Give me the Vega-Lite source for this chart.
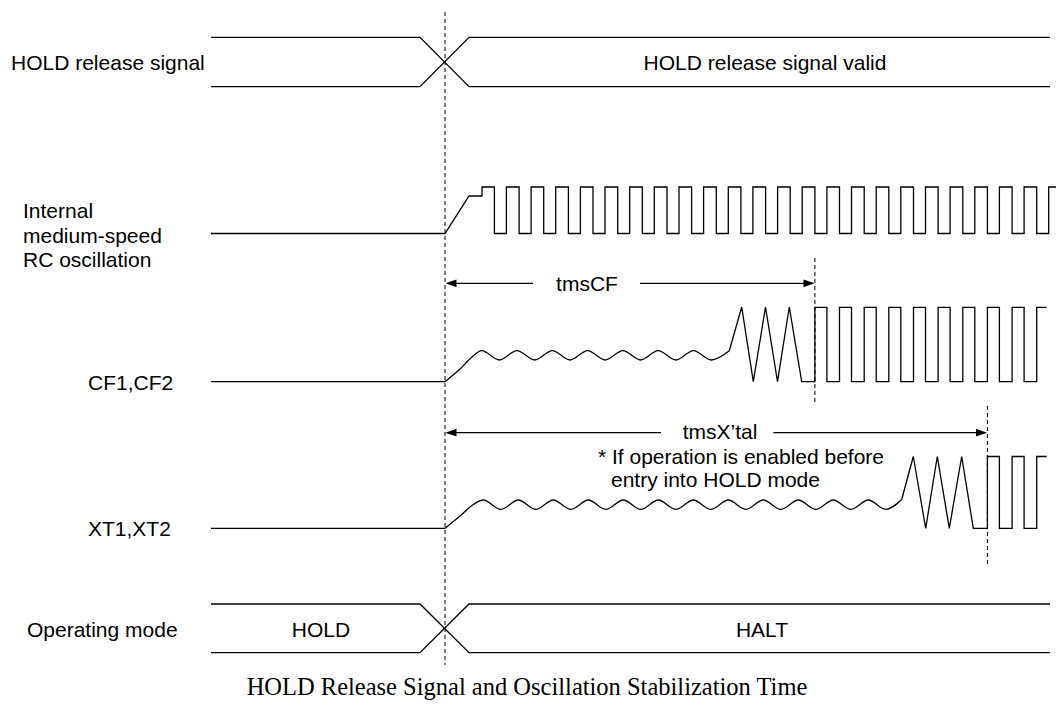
{
  "$schema": "https://vega.github.io/schema/vega-lite/v6.json",
  "width": 1056,
  "height": 715,
  "padding": 0,
  "autosize": {"type": "none"},
  "background": "white",
  "view": {"stroke": null},
  "datasets": {
    "lin": [
      {"g":"h1a","x":211,"y":37.3},{"g":"h1a","x":420,"y":37.3},{"g":"h1a","x":469,"y":86.7},{"g":"h1a","x":1050,"y":86.7},
      {"g":"h1b","x":211,"y":86.7},{"g":"h1b","x":420,"y":86.7},{"g":"h1b","x":469,"y":37.3},{"g":"h1b","x":1050,"y":37.3},
      {"g":"om1","x":211,"y":604},{"g":"om1","x":420,"y":604},{"g":"om1","x":469,"y":652.7},{"g":"om1","x":1050,"y":652.7},
      {"g":"om2","x":211,"y":652.7},{"g":"om2","x":420,"y":652.7},{"g":"om2","x":469,"y":604},{"g":"om2","x":1050,"y":604},
      {"g":"rc","x":211,"y":233.5},{"g":"rc","x":445,"y":233.5},{"g":"rc","x":469,"y":196},{"g":"rc","x":482,"y":196},{"g":"rc","x":482,"y":187},
      {"g":"rc","x":494.4,"y":187},{"g":"rc","x":494.4,"y":233.5},{"g":"rc","x":506.4,"y":233.5},{"g":"rc","x":506.4,"y":187},
      {"g":"rc","x":519.1,"y":187},{"g":"rc","x":519.1,"y":233.5},{"g":"rc","x":531.1,"y":233.5},{"g":"rc","x":531.1,"y":187},
      {"g":"rc","x":543.7,"y":187},{"g":"rc","x":543.7,"y":233.5},{"g":"rc","x":555.7,"y":233.5},{"g":"rc","x":555.7,"y":187},
      {"g":"rc","x":568.4,"y":187},{"g":"rc","x":568.4,"y":233.5},{"g":"rc","x":580.4,"y":233.5},{"g":"rc","x":580.4,"y":187},
      {"g":"rc","x":593,"y":187},{"g":"rc","x":593,"y":233.5},{"g":"rc","x":605,"y":233.5},{"g":"rc","x":605,"y":187},
      {"g":"rc","x":617.7,"y":187},{"g":"rc","x":617.7,"y":233.5},{"g":"rc","x":629.7,"y":233.5},{"g":"rc","x":629.7,"y":187},
      {"g":"rc","x":642.3,"y":187},{"g":"rc","x":642.3,"y":233.5},{"g":"rc","x":654.3,"y":233.5},{"g":"rc","x":654.3,"y":187},
      {"g":"rc","x":667,"y":187},{"g":"rc","x":667,"y":233.5},{"g":"rc","x":679,"y":233.5},{"g":"rc","x":679,"y":187},
      {"g":"rc","x":691.6,"y":187},{"g":"rc","x":691.6,"y":233.5},{"g":"rc","x":703.6,"y":233.5},{"g":"rc","x":703.6,"y":187},
      {"g":"rc","x":716.3,"y":187},{"g":"rc","x":716.3,"y":233.5},{"g":"rc","x":728.3,"y":233.5},{"g":"rc","x":728.3,"y":187},
      {"g":"rc","x":740.9,"y":187},{"g":"rc","x":740.9,"y":233.5},{"g":"rc","x":752.9,"y":233.5},{"g":"rc","x":752.9,"y":187},
      {"g":"rc","x":765.6,"y":187},{"g":"rc","x":765.6,"y":233.5},{"g":"rc","x":777.6,"y":233.5},{"g":"rc","x":777.6,"y":187},
      {"g":"rc","x":790.2,"y":187},{"g":"rc","x":790.2,"y":233.5},{"g":"rc","x":802.2,"y":233.5},{"g":"rc","x":802.2,"y":187},
      {"g":"rc","x":814.9,"y":187},{"g":"rc","x":814.9,"y":233.5},{"g":"rc","x":826.9,"y":233.5},{"g":"rc","x":826.9,"y":187},
      {"g":"rc","x":839.5,"y":187},{"g":"rc","x":839.5,"y":233.5},{"g":"rc","x":851.5,"y":233.5},{"g":"rc","x":851.5,"y":187},
      {"g":"rc","x":864.2,"y":187},{"g":"rc","x":864.2,"y":233.5},{"g":"rc","x":876.2,"y":233.5},{"g":"rc","x":876.2,"y":187},
      {"g":"rc","x":888.8,"y":187},{"g":"rc","x":888.8,"y":233.5},{"g":"rc","x":900.8,"y":233.5},{"g":"rc","x":900.8,"y":187},
      {"g":"rc","x":913.5,"y":187},{"g":"rc","x":913.5,"y":233.5},{"g":"rc","x":925.5,"y":233.5},{"g":"rc","x":925.5,"y":187},
      {"g":"rc","x":938.1,"y":187},{"g":"rc","x":938.1,"y":233.5},{"g":"rc","x":950.1,"y":233.5},{"g":"rc","x":950.1,"y":187},
      {"g":"rc","x":962.8,"y":187},{"g":"rc","x":962.8,"y":233.5},{"g":"rc","x":974.8,"y":233.5},{"g":"rc","x":974.8,"y":187},
      {"g":"rc","x":987.4,"y":187},{"g":"rc","x":987.4,"y":233.5},{"g":"rc","x":999.4,"y":233.5},{"g":"rc","x":999.4,"y":187},
      {"g":"rc","x":1012.1,"y":187},{"g":"rc","x":1012.1,"y":233.5},{"g":"rc","x":1024.1,"y":233.5},{"g":"rc","x":1024.1,"y":187},
      {"g":"rc","x":1036.7,"y":187},{"g":"rc","x":1036.7,"y":233.5},{"g":"rc","x":1048.7,"y":233.5},{"g":"rc","x":1048.7,"y":187},
      {"g":"rc","x":1056,"y":187},
      {"g":"cfb","x":211,"y":381.7},{"g":"cfb","x":445,"y":381.7},
      {"g":"cfz","x":729.3,"y":350.7},{"g":"cfz","x":741.7,"y":307},{"g":"cfz","x":753.3,"y":381.7},{"g":"cfz","x":765.5,"y":307},{"g":"cfz","x":777.5,"y":381.7},{"g":"cfz","x":789.3,"y":307},{"g":"cfz","x":801.7,"y":381.7},
      {"g":"cfz","x":814.9,"y":381.7},{"g":"cfz","x":814.9,"y":307.3},{"g":"cfz","x":826.9,"y":307.3},{"g":"cfz","x":826.9,"y":381.7},
      {"g":"cfz","x":839.5,"y":381.7},{"g":"cfz","x":839.5,"y":307.3},{"g":"cfz","x":851.5,"y":307.3},{"g":"cfz","x":851.5,"y":381.7},
      {"g":"cfz","x":864.2,"y":381.7},{"g":"cfz","x":864.2,"y":307.3},{"g":"cfz","x":876.2,"y":307.3},{"g":"cfz","x":876.2,"y":381.7},
      {"g":"cfz","x":888.8,"y":381.7},{"g":"cfz","x":888.8,"y":307.3},{"g":"cfz","x":900.8,"y":307.3},{"g":"cfz","x":900.8,"y":381.7},
      {"g":"cfz","x":913.5,"y":381.7},{"g":"cfz","x":913.5,"y":307.3},{"g":"cfz","x":925.5,"y":307.3},{"g":"cfz","x":925.5,"y":381.7},
      {"g":"cfz","x":938.1,"y":381.7},{"g":"cfz","x":938.1,"y":307.3},{"g":"cfz","x":950.1,"y":307.3},{"g":"cfz","x":950.1,"y":381.7},
      {"g":"cfz","x":962.8,"y":381.7},{"g":"cfz","x":962.8,"y":307.3},{"g":"cfz","x":974.8,"y":307.3},{"g":"cfz","x":974.8,"y":381.7},
      {"g":"cfz","x":987.4,"y":381.7},{"g":"cfz","x":987.4,"y":307.3},{"g":"cfz","x":999.4,"y":307.3},{"g":"cfz","x":999.4,"y":381.7},
      {"g":"cfz","x":1012.1,"y":381.7},{"g":"cfz","x":1012.1,"y":307.3},{"g":"cfz","x":1024.1,"y":307.3},{"g":"cfz","x":1024.1,"y":381.7},
      {"g":"cfz","x":1036.7,"y":381.7},{"g":"cfz","x":1036.7,"y":307.3},{"g":"cfz","x":1046.7,"y":307.3},
      {"g":"xtb","x":211,"y":528.3},{"g":"xtb","x":445,"y":528.3},
      {"g":"xtz","x":901.7,"y":499.5},{"g":"xtz","x":913.3,"y":456.5},{"g":"xtz","x":925.7,"y":528.3},{"g":"xtz","x":937.3,"y":456.5},{"g":"xtz","x":949.3,"y":528.3},{"g":"xtz","x":961.7,"y":456.5},{"g":"xtz","x":973.3,"y":528.3},
      {"g":"xtz","x":987.4,"y":528.3},{"g":"xtz","x":987.4,"y":456.5},{"g":"xtz","x":999.4,"y":456.5},{"g":"xtz","x":999.4,"y":528.3},
      {"g":"xtz","x":1012.1,"y":528.3},{"g":"xtz","x":1012.1,"y":456.5},{"g":"xtz","x":1024.1,"y":456.5},{"g":"xtz","x":1024.1,"y":528.3},
      {"g":"xtz","x":1036.7,"y":528.3},{"g":"xtz","x":1036.7,"y":456.5},{"g":"xtz","x":1046.7,"y":456.5},
      {"g":"a1l","x":447,"y":283.3},{"g":"a1l","x":533,"y":283.3},
      {"g":"a1r","x":640,"y":283.3},{"g":"a1r","x":813,"y":283.3},
      {"g":"a2l","x":447,"y":432.7},{"g":"a2l","x":661,"y":432.7},
      {"g":"a2r","x":773.3,"y":432.7},{"g":"a2r","x":985.5,"y":432.7}
    ],
    "wav": [
      {"g":"cfw","x":445,"y":381.7},{"g":"cfw","x":460,"y":369},{"g":"cfw","x":472,"y":357},{"g":"cfw","x":481.7,"y":350.7},
      {"g":"cfw","x":499.4,"y":360},{"g":"cfw","x":517,"y":350.7},{"g":"cfw","x":534.7,"y":360},{"g":"cfw","x":552.3,"y":350.7},
      {"g":"cfw","x":570,"y":360},{"g":"cfw","x":587.6,"y":350.7},{"g":"cfw","x":605.3,"y":360},{"g":"cfw","x":622.9,"y":350.7},
      {"g":"cfw","x":640.6,"y":360},{"g":"cfw","x":658.2,"y":350.7},{"g":"cfw","x":675.9,"y":360},{"g":"cfw","x":693.5,"y":350.7},
      {"g":"cfw","x":711.2,"y":360},{"g":"cfw","x":729.3,"y":350.7},
      {"g":"xtw","x":445,"y":528.3},{"g":"xtw","x":460,"y":516},{"g":"xtw","x":472,"y":505.5},{"g":"xtw","x":483.3,"y":500},
      {"g":"xtw","x":500.8,"y":509.3},{"g":"xtw","x":518.3,"y":500},{"g":"xtw","x":535.8,"y":509.3},{"g":"xtw","x":553.3,"y":500},
      {"g":"xtw","x":570.8,"y":509.3},{"g":"xtw","x":588.3,"y":500},{"g":"xtw","x":605.8,"y":509.3},{"g":"xtw","x":623.3,"y":500},
      {"g":"xtw","x":640.8,"y":509.3},{"g":"xtw","x":658.3,"y":500},{"g":"xtw","x":675.8,"y":509.3},{"g":"xtw","x":693.3,"y":500},
      {"g":"xtw","x":710.8,"y":509.3},{"g":"xtw","x":728.3,"y":500},{"g":"xtw","x":745.8,"y":509.3},{"g":"xtw","x":763.3,"y":500},
      {"g":"xtw","x":780.8,"y":509.3},{"g":"xtw","x":798.3,"y":500},{"g":"xtw","x":815.8,"y":509.3},{"g":"xtw","x":833.3,"y":500},
      {"g":"xtw","x":850.8,"y":509.3},{"g":"xtw","x":868.3,"y":500},{"g":"xtw","x":885.8,"y":509.3},{"g":"xtw","x":901.7,"y":499.5}
    ],
    "dash": [
      {"g":"d1","x":445,"y":12},{"g":"d1","x":445,"y":665},
      {"g":"d2","x":814.9,"y":258},{"g":"d2","x":814.9,"y":405},
      {"g":"d3","x":987.4,"y":406},{"g":"d3","x":987.4,"y":565}
    ],
    "heads": [
      {"d":"L","x":445.5,"y":283.3},{"d":"R","x":814.5,"y":283.3},
      {"d":"L","x":445.5,"y":432.7},{"d":"R","x":987,"y":432.7}
    ],
    "txtL": [
      {"t":"HOLD release signal","x":11,"y":69.5},
      {"t":"Internal","x":23,"y":218},
      {"t":"medium-speed","x":23,"y":242.5},
      {"t":"RC oscillation","x":23,"y":267},
      {"t":"CF1,CF2","x":88,"y":389.5},
      {"t":"XT1,XT2","x":88,"y":536},
      {"t":"Operating mode","x":27,"y":636.5},
      {"t":"* If operation is enabled before","x":598,"y":463.5},
      {"t":"entry into HOLD mode","x":611,"y":486.5}
    ],
    "txtC": [
      {"t":"HOLD release signal valid","x":765,"y":69.5},
      {"t":"tmsCF","x":587,"y":290.5},
      {"t":"tmsX’tal","x":720,"y":439},
      {"t":"HOLD","x":321,"y":636.5},
      {"t":"HALT","x":762,"y":636.5}
    ],
    "cap": [
      {"t":"HOLD Release Signal and Oscillation Stabilization Time","x":527,"y":695}
    ]
  },
  "encoding": {
    "x": {"field":"x","type":"quantitative","scale":{"domain":[0,1056],"nice":false,"zero":false},"axis":null},
    "y": {"field":"y","type":"quantitative","scale":{"domain":[0,715],"nice":false,"zero":false,"reverse":true},"axis":null}
  },
  "layer": [
    {
      "data": {"name":"lin"},
      "mark": {"type":"line","color":"black","strokeWidth":1.3},
      "encoding": {"detail":{"field":"g","type":"nominal"},"order":{"value":null}}
    },
    {
      "data": {"name":"wav"},
      "mark": {"type":"line","color":"black","strokeWidth":1.3,"interpolate":"monotone"},
      "encoding": {"detail":{"field":"g","type":"nominal"},"order":{"value":null}}
    },
    {
      "data": {"name":"dash"},
      "mark": {"type":"line","color":"black","strokeWidth":1,"strokeDash":[4,3]},
      "encoding": {"detail":{"field":"g","type":"nominal"},"order":{"value":null}}
    },
    {
      "data": {"name":"heads"},
      "mark": {"type":"point","filled":true,"color":"black","size":121,"opacity":1,"strokeWidth":0},
      "encoding": {
        "shape": {"field":"d","type":"nominal","scale":{"domain":["L","R"],"range":["M0 0L2 -0.7L2 0.7Z","M0 0L-2 -0.7L-2 0.7Z"]},"legend":null}
      }
    },
    {
      "data": {"name":"txtL"},
      "mark": {"type":"text","align":"left","baseline":"alphabetic","font":"Liberation Sans","fontSize":21,"color":"black"},
      "encoding": {"text":{"field":"t","type":"nominal"}}
    },
    {
      "data": {"name":"txtC"},
      "mark": {"type":"text","align":"center","baseline":"alphabetic","font":"Liberation Sans","fontSize":21,"color":"black"},
      "encoding": {"text":{"field":"t","type":"nominal"}}
    },
    {
      "data": {"name":"cap"},
      "mark": {"type":"text","align":"center","baseline":"alphabetic","font":"Liberation Serif","fontSize":24.5,"color":"black"},
      "encoding": {"text":{"field":"t","type":"nominal"}}
    }
  ]
}
